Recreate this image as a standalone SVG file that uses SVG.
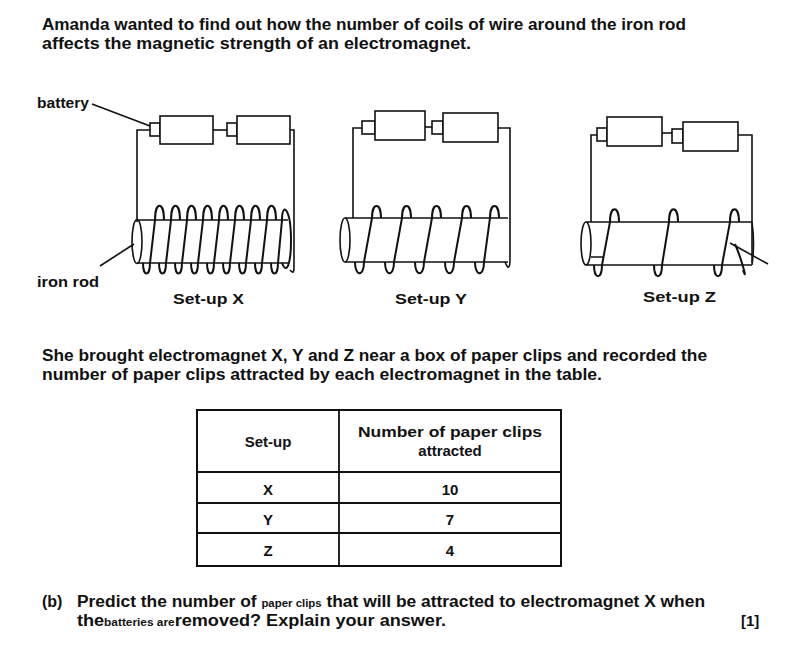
<svg xmlns="http://www.w3.org/2000/svg" width="811" height="672" viewBox="0 0 811 672">
<style>
text{font-family:"Liberation Sans",Arial,sans-serif;fill:#111}
.t{font-size:16px;font-weight:bold}
.s{font-size:10.5px;font-weight:bold}
.l{font-size:15px;font-weight:bold}
.w{fill:none;stroke:#111;stroke-width:1.6}
.c{fill:none;stroke:#111;stroke-width:2}
.b{fill:#fff;stroke:#111;stroke-width:1.6}
.g{stroke:#111;stroke-width:1.8}
</style>
<rect width="811" height="672" fill="#fff"/>
<text class="t" x="42" y="30" textLength="644" lengthAdjust="spacingAndGlyphs">Amanda wanted to find out how the number of coils of wire around the iron rod</text>
<text class="t" x="42" y="49" textLength="429" lengthAdjust="spacingAndGlyphs">affects the magnetic strength of an electromagnet.</text>

<g id="setupX">
<path class="w" d="M137,222 V130 H150 M290,130 H294 V268 Q294,275 290,270"/>
<rect class="b" x="150" y="123" width="10" height="13"/>
<rect class="b" x="160" y="116" width="53" height="28"/>
<path class="w" d="M213,130 H227"/>
<rect class="b" x="227" y="123" width="10" height="13"/>
<rect class="b" x="237" y="116" width="53" height="28"/>
<path class="w" d="M137,220 H288 M137,263 H288"/>
<ellipse class="w" cx="137" cy="241.5" rx="5" ry="22"/>
<path class="c" d="M143,263 C143,277 150,277 150,263 L155,220 C155,201 164,201 164,220 M159,263 C159,277 166,277 166,263 L171,220 C171,201 180,201 180,220 M175,263 C175,277 182,277 182,263 L187,220 C187,201 196,201 196,220 M191,263 C191,277 198,277 198,263 L203,220 C203,201 212,201 212,220 M207,263 C207,277 214,277 214,263 L219,220 C219,201 228,201 228,220 M223,263 C223,277 230,277 230,263 L235,220 C235,201 244,201 244,220 M239,263 C239,277 246,277 246,263 L251,220 C251,201 260,201 260,220 M255,263 C255,277 262,277 262,263 L267,220 C267,201 276,201 276,220 M271,263 C271,277 278,277 278,263 L282,220 C282,201 291,208 291,241 C291,262 287,276 282,263"/>
<text class="l" x="37" y="108" textLength="52" lengthAdjust="spacingAndGlyphs">battery</text>
<path class="w" d="M92,104 L150,126"/>
<text class="l" x="37" y="287" textLength="62" lengthAdjust="spacingAndGlyphs">iron rod</text>
<path class="w" d="M100,266 L134,244"/>
<text class="l" x="173" y="304" textLength="71" lengthAdjust="spacingAndGlyphs">Set-up X</text>
</g>

<g id="setupY">
<path class="w" d="M353,218 V128 H362 M498,128 H510 V258 Q510,274 505,262"/>
<rect class="b" x="362" y="121" width="13" height="13"/>
<rect class="b" x="375" y="111" width="50" height="29"/>
<path class="w" d="M425,127 H432"/>
<rect class="b" x="432" y="121" width="11" height="13"/>
<rect class="b" x="443" y="113" width="55" height="29"/>
<path class="w" d="M345,218 H508 M345,262 H508"/>
<ellipse class="w" cx="345" cy="240" rx="5" ry="22"/>
<path class="c" d="M355,262 C355,277 364,277 364,262 L372,218 C372,202 381,202 381,218 M385,262 C385,277 394,277 394,262 L402,218 C402,202 411,202 411,218 M415,262 C415,277 424,277 424,262 L432,218 C432,202 441,202 441,218 M445,262 C445,277 454,277 454,262 L462,218 C462,202 471,202 471,218 M475,262 C475,277 484,277 484,262 L490,218 C490,202 499,202 499,218"/>
<text class="l" x="395" y="304" textLength="72" lengthAdjust="spacingAndGlyphs">Set-up Y</text>
</g>

<g id="setupZ">
<path class="w" d="M591,222 V135 H597 M738,135 H752 V263"/>
<rect class="b" x="597" y="128" width="10" height="13"/>
<rect class="b" x="607" y="117" width="55" height="29"/>
<path class="w" d="M662,133 H672"/>
<rect class="b" x="672" y="129" width="11" height="14"/>
<rect class="b" x="683" y="122" width="55" height="29"/>
<path class="w" d="M586,222 H752 M586,265 H752 M591,257 H603"/>
<ellipse class="w" cx="586" cy="243.5" rx="5" ry="21.5"/>
<path class="w" d="M752,222 Q755,243 752,265"/>
<path class="c" d="M594,265 C594,280 602,280 602,265 L610,222 C610,205 619,205 619,222 M654,265 C654,280 662,280 662,265 L669,222 C669,205 678,205 678,222 M714,265 C714,280 722,280 722,265 L730,222 C730,205 739,205 739,222 M735,244 C742,260 748,284 743,270"/>
<path class="w" d="M730,243 L768,264"/>
<text class="l" x="643" y="302" textLength="73" lengthAdjust="spacingAndGlyphs">Set-up Z</text>
</g>

<text class="t" x="42" y="361" textLength="665" lengthAdjust="spacingAndGlyphs">She brought electromagnet X, Y and Z near a box of paper clips and recorded the</text>
<text class="t" x="42" y="380" textLength="560" lengthAdjust="spacingAndGlyphs">number of paper clips attracted by each electromagnet in the table.</text>

<g id="table">
<rect x="197" y="410" width="364" height="156" fill="none" stroke="#111" stroke-width="2"/>
<path class="g" d="M339,410 V566 M197,472 H561 M197,503 H561 M197,533 H561"/>
<text class="l" x="268" y="447" text-anchor="middle">Set-up</text>
<text class="l" x="450" y="437" text-anchor="middle" textLength="184" lengthAdjust="spacingAndGlyphs">Number of paper clips</text>
<text class="l" x="450" y="456" text-anchor="middle">attracted</text>
<text class="l" x="268" y="495" text-anchor="middle">X</text>
<text class="l" x="450" y="495" text-anchor="middle">10</text>
<text class="l" x="268" y="525" text-anchor="middle">Y</text>
<text class="l" x="450" y="525" text-anchor="middle">7</text>
<text class="l" x="268" y="556" text-anchor="middle">Z</text>
<text class="l" x="450" y="556" text-anchor="middle">4</text>
</g>

<text class="t" x="42" y="607">(b)</text>
<text class="t" x="77" y="607" textLength="628" lengthAdjust="spacingAndGlyphs">Predict the number of <tspan class="s">paper clips</tspan> that will be attracted to electromagnet X when</text>
<text class="t" x="77" y="626" textLength="369" lengthAdjust="spacingAndGlyphs">the<tspan class="s">batteries are</tspan>removed? Explain your answer.</text>
<text class="l" x="741" y="626">[1]</text>
</svg>
